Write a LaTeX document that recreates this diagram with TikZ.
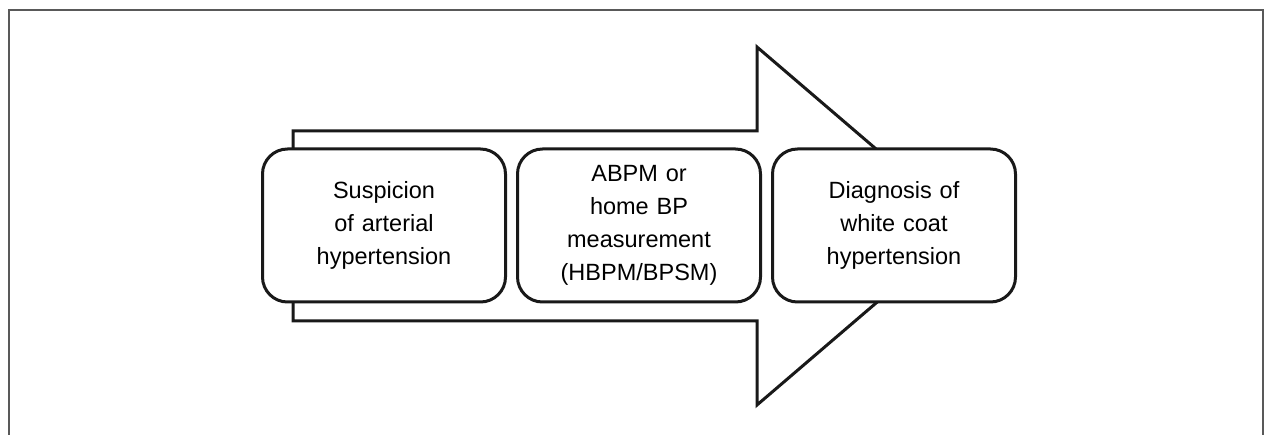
\documentclass[tikz,border=0pt]{standalone}
\usepackage{fontspec}
\setmainfont{Liberation Sans}
\usetikzlibrary{positioning}

\begin{document}
\begin{tikzpicture}[
    x=1pt, y=-1pt,
    node distance=9pt,
    stage/.style={rectangle, rounded corners=25pt, draw=black!90, line width=3pt, fill=white, minimum width=243pt, minimum height=153pt, text width=225pt, align=center, font=\fontsize{23.5}{33}\selectfont, inner sep=0pt},
    bigarrow/.style={draw=black!90, line width=3pt, fill=white, line join=miter},
    frame/.style={draw=black!65, line width=1.2pt}
]
\useasboundingbox (0,0) rectangle (1264,435);
% Frame
\draw[frame] (9,440) -- (9,10) -- (1263,10) -- (1263,440);

% Arrow behind the stages
\draw[bigarrow] (293,131) -- (757,131) -- (757,47) -- (966,226) -- (757,405) -- (757,321) -- (293,321) -- cycle;

% Stages
\node[stage] (suspicion) at (384,225.5) {Suspicion\\of arterial\\hypertension};
\node[stage, right=of suspicion] (measure) {ABPM or\\home BP\\measurement\\(HBPM/BPSM)};
\node[stage, right=of measure] (diagnosis) {Diagnosis of\\white coat\\hypertension};
\end{tikzpicture}
\end{document}
